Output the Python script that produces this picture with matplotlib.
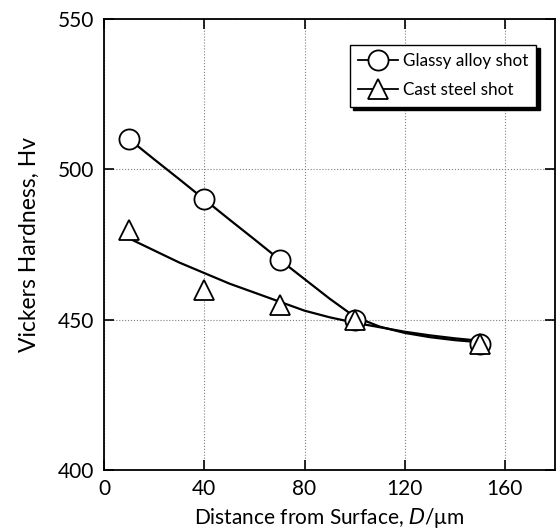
import numpy as np
from matplotlib import pyplot as plt

plt.rcParams['font.family'] = ['Lato', 'DejaVu Sans']

# measured points
depth = [10, 40, 70, 100, 150]
glassyHv = [510, 490, 470, 450, 442]
castHv = [480, 460, 455, 450, 442]

# smoothed curves
curveDepth = [10, 20, 30, 40, 50, 60, 70, 80, 90, 100, 110, 120, 130, 140, 150]
glassyCurve = [510, 503.3, 496.7, 490, 483.3, 476.7, 470, 463.5, 457, 451, 447.7, 445.6, 444.2, 443.2, 442.5]
castCurve = [477, 473, 469, 465.5, 462, 459, 456, 453, 450.8, 449, 447.5, 446, 444.8, 443.8, 443]

xTicks = [0, 40, 80, 120, 160]
yTicks = [400, 450, 500, 550]

fig = plt.figure(figsize=(5.56, 5.32), dpi=100)
ax = fig.add_axes([0.1875, 0.1165, 0.8106, 0.8477])

ax.plot(curveDepth, glassyCurve, color='black', lw=1.6, zorder=3)
ax.plot(curveDepth, castCurve, color='black', lw=1.6, zorder=3)
ax.plot(depth, glassyHv, ls='none', marker='o', ms=14.5, mfc='white', mec='black', mew=1.3, zorder=4)
ax.plot(depth, castHv, ls='none', marker='^', ms=14.5, mfc='white', mec='black', mew=1.3, zorder=5)

# legend proxies: line with marker through it
ax.plot([], [], color='black', lw=1.3, marker='o', ms=14.5, mfc='white', mec='black', mew=1.3, label='Glassy alloy shot')
ax.plot([], [], color='black', lw=1.3, marker='^', ms=14.5, mfc='white', mec='black', mew=1.3, label='Cast steel shot')
leg = ax.legend(loc='upper right', bbox_to_anchor=(0.959, 0.943), borderaxespad=0,
                fancybox=False, framealpha=1, edgecolor='black', fontsize=12.3,
                handlelength=2.35, handletextpad=0.25, borderpad=0.5, labelspacing=0.75,
                shadow={'color': 'black', 'alpha': 1, 'ox': 2.5, 'oy': -2.5})
leg.get_frame().set_linewidth(1.0)

ax.set_xlim(0, 180)
ax.set_ylim(400, 550)
ax.set_xticks(xTicks)
ax.set_yticks(yTicks)
ax.tick_params(direction='in', length=7, width=1.2, top=True, right=True, labelsize=15)
ax.tick_params(axis='y', pad=7.5)
ax.tick_params(axis='x', pad=6.5)
ax.grid(True, ls=':', color='gray', lw=0.8)
for s in ax.spines.values():
    s.set_linewidth(1.3)

ax.set_xlabel('Distance from Surface, $D$/\u03bcm', fontsize=15, labelpad=5)
ax.set_ylabel('Vickers Hardness, Hv', fontsize=16.5, labelpad=13)

fig.savefig('out.png', dpi=100)
